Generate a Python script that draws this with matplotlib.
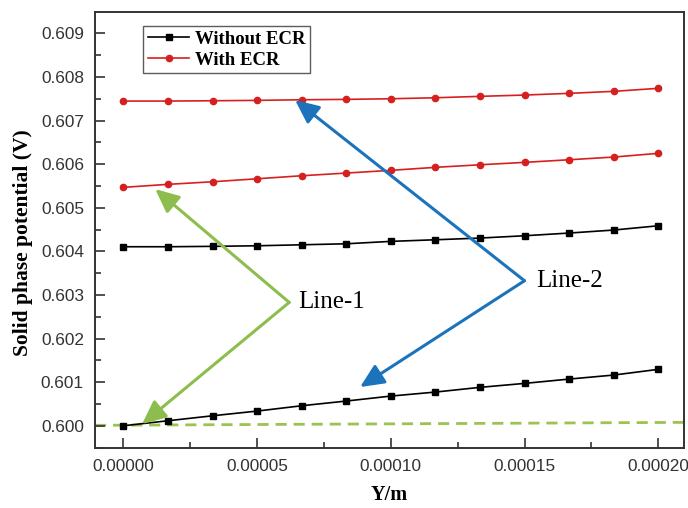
import numpy as np
import matplotlib
matplotlib.use("Agg")
import matplotlib.pyplot as plt
from matplotlib.ticker import MultipleLocator, FormatStrFormatter

# distance across the electrode (m)
y_pos = [0.0, 1.667e-5, 3.333e-5, 5.0e-5, 6.667e-5, 8.333e-5, 1.0e-4,
         1.1667e-4, 1.3333e-4, 1.5e-4, 1.6667e-4, 1.8333e-4, 2.0e-4]

# solid phase potential (V), line-1 and line-2
no_ecr_line1 = [0.600000, 0.600115, 0.600229, 0.600337, 0.600459, 0.600567, 0.600681,
                0.600773, 0.600881, 0.600972, 0.601071, 0.601163, 0.601294]
no_ecr_line2 = [0.604106, 0.604106, 0.604115, 0.604128, 0.604151, 0.604174, 0.604229,
                0.604266, 0.604305, 0.604358, 0.604420, 0.604489, 0.604587]
ecr_line1 = [0.605468, 0.605537, 0.605596, 0.605665, 0.605734, 0.605796, 0.605858,
             0.605927, 0.605986, 0.606041, 0.606101, 0.606163, 0.606248]
ecr_line2 = [0.607447, 0.607447, 0.607454, 0.607463, 0.607477, 0.607486, 0.607500,
             0.607523, 0.607555, 0.607585, 0.607624, 0.607670, 0.607739]

# dashed reference level
ref_x = [-1.06e-5, 2.096e-4]
ref_y = [0.600010, 0.600078]

# arrow labels: vertex and the two points each one marks
line1_vertex = (6.2e-5, 0.60283)
line1_tips = [(1.19e-5, 0.605429), (0.70e-5, 0.600039)]
line2_vertex = (1.4996e-4, 0.603326)
line2_tips = [(6.42e-5, 0.607470), (8.85e-5, 0.600888)]

green = "#8dbd4c"
blue = "#1b74bb"

fig = plt.figure(figsize=(6.88, 5.08), dpi=100)
ax = fig.add_axes([0.1381, 0.1181, 0.8561, 0.8583])

ax.plot(ref_x, ref_y, ls=(0, (4, 2.5)), color="#9cc24f", lw=2.0, zorder=1)

ax.plot(y_pos, no_ecr_line1, color="black", lw=1.2, marker="s", ms=4, label="Without ECR", zorder=3)
ax.plot(y_pos, no_ecr_line2, color="black", lw=1.2, marker="s", ms=4, zorder=3)
ax.plot(y_pos, ecr_line1, color="#d62020", lw=1.2, marker="o", ms=4.5, label="With ECR", zorder=3)
ax.plot(y_pos, ecr_line2, color="#d62020", lw=1.2, marker="o", ms=4.5, zorder=3)

def draw_arrows(vertex, tips, color):
    for tip in tips:
        ax.annotate("", xy=tip, xytext=vertex,
                    arrowprops=dict(arrowstyle="-|>,head_length=1.2,head_width=0.55",
                                    mutation_scale=12, color=color, lw=2.2,
                                    shrinkA=0, shrinkB=0), zorder=4)

draw_arrows(line1_vertex, line1_tips, green)
draw_arrows(line2_vertex, line2_tips, blue)

ax.text(line1_vertex[0] + 0.35e-5, line1_vertex[1], "Line-1", fontsize=18,
        family="Liberation Serif", va="center", ha="left")
ax.text(line2_vertex[0] + 0.45e-5, line2_vertex[1], "Line-2", fontsize=18,
        family="Liberation Serif", va="center", ha="left")

ax.set_xlim(ref_x[0], ref_x[1])
ax.set_ylim(0.59949, 0.60949)
ax.xaxis.set_major_locator(MultipleLocator(5e-5))
ax.xaxis.set_minor_locator(MultipleLocator(2.5e-5))
ax.yaxis.set_major_locator(MultipleLocator(0.001))
ax.yaxis.set_minor_locator(MultipleLocator(0.0005))
ax.xaxis.set_major_formatter(FormatStrFormatter("%.5f"))
ax.yaxis.set_major_formatter(FormatStrFormatter("%.3f"))

ax.tick_params(which="both", direction="in", color="#333333", width=1.2,
               labelsize=12.4, labelcolor="#333333")
ax.tick_params(which="major", length=7, pad=8)
ax.tick_params(which="minor", length=4)
for lab in ax.get_xticklabels() + ax.get_yticklabels():
    lab.set_family("Liberation Sans")
for sp in ax.spines.values():
    sp.set_linewidth(1.4)
    sp.set_color("#333333")

ax.set_xlabel("Y/m", fontsize=14.5, fontweight="bold", family="Liberation Serif", labelpad=8)
ax.set_ylabel("Solid phase potential (V)", fontsize=15.5, fontweight="bold",
              family="Liberation Serif")
ax.yaxis.set_label_coords(-0.105, 0.47)

leg = ax.legend(loc="upper left", bbox_to_anchor=(0.082, 0.968), frameon=True, fancybox=False,
                prop={"family": "Liberation Serif", "weight": "bold", "size": 13.5},
                handlelength=2.2, handletextpad=0.3, borderpad=0.25, labelspacing=0.2,
                borderaxespad=0)
leg.get_frame().set_edgecolor("#333333")
leg.get_frame().set_linewidth(1.0)

fig.savefig("out.png", dpi=100)
